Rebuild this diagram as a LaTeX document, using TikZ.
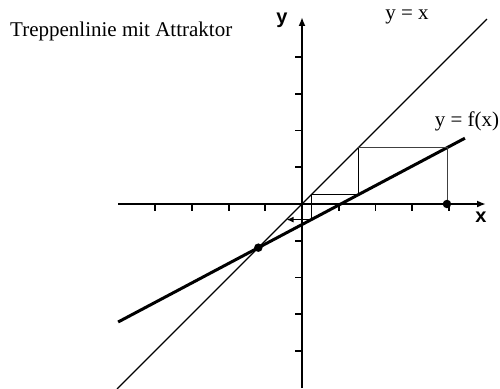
\documentclass[tikz,border=0pt]{standalone}
\usepackage{fontspec}
\setmainfont{Liberation Serif}
\newfontfamily\axisfont{Liberation Sans}
\usetikzlibrary{arrows.meta}
\begin{document}
\begin{tikzpicture}[x=36.7pt,y=36.7pt,
  axis/.style={line width=2pt,-{Latex[length=9pt,width=7pt]}},
  tickmark/.style={line width=1.8pt},
  fline/.style={line width=3pt},
  idline/.style={line width=1.1pt},
  stair/.style={line width=1.3pt},
  stairlight/.style={line width=0.9pt,black!75},
  dotmark/.style={circle,fill=black,inner sep=0pt,minimum size=8.5pt},
  lbl/.style={font=\fontsize{21}{24}\selectfont,inner sep=0pt},
  axlbl/.style={font=\axisfont\bfseries\fontsize{20}{22}\selectfont,inner sep=0pt}]
\useasboundingbox (-302pt,-184pt) rectangle (198pt,204pt);
% axes
\coordinate (xa) at (-5.01,0);
\coordinate (xb) at (184pt,0);
\coordinate (ya) at (0,-184pt);
\coordinate (yb) at (0,187pt);
\draw[axis] (xa) -- (xb);
\draw[axis] (ya) -- (yb);
% ticks
\foreach \i in {-4,-3,-2,-1,1,2,3,4}
  \draw[tickmark] (\i,0) -- ++(0,-7pt);
\foreach \i in {-4,-3,-2,-1,1,2,3,4}
  \draw[tickmark] (0,\i) -- ++(-7pt,0);
% y = x
\coordinate (ia) at (-5.04,-5.04);
\coordinate (ib) at (5.04,5.04);
\draw[idline] (ia) -- (ib);
% y = f(x) = 0.53x - 0.56
\coordinate (fa) at (-5.01,{0.53*(-5.01)-0.56});
\coordinate (fb) at (4.44,{0.53*4.44-0.56});
\draw[fline] (fa) -- (fb);
% staircase
\coordinate (p0) at (3.95,0);
\coordinate (p1) at (3.95,1.5335);
\coordinate (p2) at (1.5335,1.5335);
\coordinate (p3) at (1.5335,0.2528);
\coordinate (p4) at (0.2528,0.2528);
\coordinate (p5) at (0.2528,-0.426);
\coordinate (p6) at (-0.42,-0.426);
\draw[stairlight] (p0) -- (p1) -- (p2);
\draw[stair] (p2) -- (p3) -- (p4) -- (p5);
\draw[stair,-{Latex[length=7pt,width=6pt]}] (p5) -- (p6);
% dots
\node[dotmark] (start) at (p0) {};
\node[dotmark] (fix) at (-1.19,-1.19) {};
% labels
\node[lbl,anchor=base west] (title) at (-292pt,167pt) {Treppenlinie mit Attraktor};
\node[lbl,anchor=base] (lid) at (105pt,184pt) {y = x};
\node[lbl,anchor=base] (lf) at (165pt,77pt) {y = f(x)};
\node[axlbl] (ylab) at (-20pt,184pt) {y};
\node[axlbl] (xlab) at (179pt,-13pt) {x};
\end{tikzpicture}
\end{document}
